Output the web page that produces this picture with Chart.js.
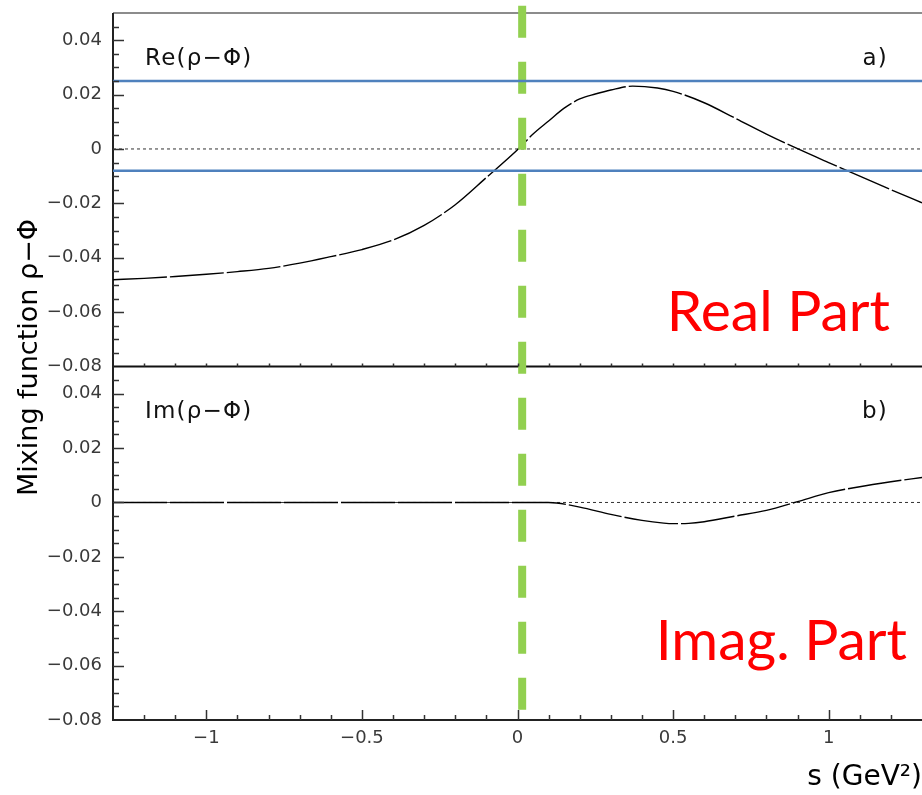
<!DOCTYPE html>
<html>
<head>
<meta charset="utf-8">
<script src="https://cdn.jsdelivr.net/npm/chart.js@4.4.0/dist/chart.umd.min.js"></script>
<style>
body { margin: 0; background: #fff; }
canvas { display: block; }
</style>
</head>
<body>
<canvas id="myChart" width="922" height="795"></canvas>
<script>
// values
var reS      = [-1.3, -1.2, -1.1, -1.0, -0.9, -0.8, -0.7, -0.6, -0.5, -0.4, -0.3, -0.2, -0.1, 0.0, 0.05, 0.1, 0.15, 0.2, 0.25, 0.3, 0.37, 0.45, 0.5, 0.6, 0.7, 0.8, 0.9, 1.0, 1.1, 1.2, 1.3];
var reValues = [-0.0481, -0.0476, -0.0469, -0.0461, -0.0451, -0.0439, -0.0420, -0.0396, -0.0370, -0.0335, -0.0281, -0.0205, -0.0105, -0.0003, 0.0055, 0.0103, 0.0150, 0.0184, 0.0202, 0.0217, 0.0231, 0.0224, 0.0212, 0.0170, 0.0113, 0.0055, 0.0001, -0.0050, -0.0100, -0.0150, -0.0198];

var imS      = [-1.3, -1.0, -0.5, 0.0, 0.1, 0.2, 0.3, 0.4, 0.47, 0.5, 0.55, 0.6, 0.7, 0.8, 0.9, 1.0, 1.1, 1.2, 1.3];
var imValues = [0, 0, 0, 0, 0, -0.0017, -0.0044, -0.0066, -0.0076, -0.0078, -0.0077, -0.0071, -0.0050, -0.0029, 0.0003, 0.0036, 0.0058, 0.0076, 0.0092];

var blueLevels = [0.025, -0.008];
var greenS = 0.015;

var sRange = [-1.3, 1.3];
var yRange = [-0.08, 0.05];
var xTickStep = 0.5, xMinorStep = 0.1;
var yTickStep = 0.02, yMinorStep = 0.005;

var panelLabels = ['Re(ρ−Φ)', 'Im(ρ−Φ)'];
var panelTags = ['a)', 'b)'];
var partLabels = ['Real Part', 'Imag. Part'];
var yTitle = 'Mixing function ρ−Φ';
var xTitle = 's (GeV²)';

function toPoints(xs, ys) {
    var pts = [];
    for (var i = 0; i < xs.length; i++) pts.push({x: xs[i], y: ys[i]});
    return pts;
}

function flat(level) {
    return [{x: sRange[0], y: level}, {x: sRange[1], y: level}];
}

function minusNum(v, digits) {
    if (Math.abs(v) < 1e-9) return '0';
    var t = digits == null ? String(+Math.abs(v).toFixed(2)) : Math.abs(v).toFixed(digits);
    return (v < 0 ? '\u2212' : '') + t;
}

var tickFont = {family: 'DejaVu Sans', size: 18};

function yScale(weight) {
    return {
        type: 'linear',
        position: 'left',
        stack: 'panels',
        stackWeight: 1,
        weight: weight,
        min: yRange[0],
        max: yRange[1],
        afterFit: function (s) { s.width = 113; s.paddingTop = 0; s.paddingBottom = 0; },
        grid: {display: false, drawTicks: false},
        border: {display: false},
        ticks: {
            stepSize: yTickStep,
            includeBounds: false,
            padding: 11,
            color: '#3a3a3a',
            font: tickFont,
            callback: function (v) { return minusNum(v, 2); }
        }
    };
}

var decor = {
    id: 'decor',
    beforeDatasetsDraw: function (chart) {
        var ctx = chart.ctx, a = chart.chartArea;
        var sep = chart.scales.yRe.bottom;
        ctx.save();
        ctx.lineCap = 'butt';
        ctx.strokeStyle = '#666';
        ctx.lineWidth = 1.5;
        ctx.beginPath(); ctx.moveTo(a.left, a.top); ctx.lineTo(a.right, a.top); ctx.stroke();
        ctx.strokeStyle = '#111';
        ctx.lineWidth = 2;
        ctx.beginPath(); ctx.moveTo(a.left, sep); ctx.lineTo(a.right, sep); ctx.stroke();
        ctx.strokeStyle = '#222';
        ctx.beginPath(); ctx.moveTo(a.left, a.top); ctx.lineTo(a.left, a.bottom); ctx.lineTo(a.right, a.bottom); ctx.stroke();
        ctx.restore();
    },
    afterDatasetDraw: function (chart, args) {
        if (chart.data.datasets[args.index].label !== panelLabels[0]) return;
        // green dashed marker, drawn over the curves but under the blue levels
        var ctx = chart.ctx, a = chart.chartArea;
        var gx = chart.scales.x.getPixelForValue(greenS);
        ctx.save();
        ctx.strokeStyle = '#92D050';
        ctx.lineWidth = 8;
        ctx.setLineDash([32, 24]);
        ctx.beginPath();
        ctx.moveTo(gx, a.top - 7.3);
        ctx.lineTo(gx, a.bottom);
        ctx.stroke();
        ctx.restore();
    },
    afterDraw: function (chart) {
        var ctx = chart.ctx, a = chart.chartArea;
        var xs = chart.scales.x;
        var panels = [chart.scales.yRe, chart.scales.yIm];
        ctx.save();
        ctx.strokeStyle = '#333';
        ctx.lineWidth = 1.5;
        // inner y ticks
        panels.forEach(function (ys) {
            var n = Math.round((yRange[1] - yRange[0]) / yMinorStep);
            for (var i = 1; i < n; i++) {
                var v = yRange[0] + i * yMinorStep;
                var major = Math.abs(v / yTickStep - Math.round(v / yTickStep)) < 1e-6;
                var py = Math.round(ys.getPixelForValue(v)) + 0.5;
                ctx.beginPath();
                ctx.moveTo(a.left, py);
                ctx.lineTo(a.left + (major ? 11 : 6), py);
                ctx.stroke();
            }
        });
        // inner x ticks, bottom axis and separator
        var m = Math.round((sRange[1] - sRange[0]) / xMinorStep);
        for (var j = 1; j < m; j++) {
            var s = sRange[0] + j * xMinorStep;
            var majorX = Math.abs(s / xTickStep - Math.round(s / xTickStep)) < 1e-6;
            var px = Math.round(xs.getPixelForValue(s)) + 0.5;
            ctx.beginPath();
            ctx.moveTo(px, a.bottom);
            ctx.lineTo(px, a.bottom - (majorX ? 10 : 5));
            ctx.stroke();
            ctx.beginPath();
            ctx.moveTo(px, panels[0].bottom);
            ctx.lineTo(px, panels[0].bottom - 3);
            ctx.stroke();
        }

        // panel labels
        ctx.fillStyle = '#111';
        ctx.font = '23px "DejaVu Sans"';
        ctx.letterSpacing = '1.2px';
        ctx.textBaseline = 'middle';
        panels.forEach(function (ys, k) {
            ctx.textAlign = 'left';
            ctx.fillText(panelLabels[k], a.left + 32, ys.top + 46);
            ctx.textAlign = 'right';
            ctx.fillText(panelTags[k], a.right - 34, ys.top + 46);
        });
        ctx.letterSpacing = '0px';

        // big red part names
        ctx.fillStyle = '#FF0000';
        ctx.font = '57px Lato';
        ctx.textAlign = 'right';
        ctx.textBaseline = 'alphabetic';
        ctx.fillText(partLabels[0], a.right - 32, panels[0].bottom - 36);
        ctx.fillText(partLabels[1], a.right - 15, panels[1].bottom - 60);

        // y title across both panels
        ctx.fillStyle = '#000';
        ctx.font = '27px "DejaVu Sans"';
        ctx.textAlign = 'center';
        ctx.translate(37, (a.top + a.bottom) / 2 - 9);
        ctx.rotate(-Math.PI / 2);
        ctx.fillText(yTitle, 0, 0);
        ctx.restore();
    }
};

var ctx = document.getElementById('myChart').getContext('2d');
var myChart = new Chart(ctx, {
    type: 'line',
    data: {
        datasets: [{
            label: panelLabels[0],
            yAxisID: 'yRe',
            data: toPoints(reS, reValues),
            borderColor: '#000',
            borderWidth: 1.4,
            borderDash: [54, 3],
            cubicInterpolationMode: 'monotone',
            pointRadius: 0,
            order: 3
        }, {
            label: panelLabels[1],
            yAxisID: 'yIm',
            data: toPoints(imS, imValues),
            borderColor: '#000',
            borderWidth: 1.4,
            borderDash: [54, 3],
            cubicInterpolationMode: 'monotone',
            pointRadius: 0,
            order: 3
        }, {
            label: 'zeroRe',
            yAxisID: 'yRe',
            data: flat(0),
            borderColor: '#333',
            borderWidth: 1,
            borderDash: [3, 3],
            pointRadius: 0,
            order: 4
        }, {
            label: 'zeroIm',
            yAxisID: 'yIm',
            data: flat(0),
            borderColor: '#333',
            borderWidth: 1,
            borderDash: [3, 3],
            pointRadius: 0,
            order: 4
        }, {
            label: 'upper',
            yAxisID: 'yRe',
            data: flat(blueLevels[0]),
            borderColor: '#4F81BD',
            borderWidth: 2.6,
            pointRadius: 0,
            order: 1
        }, {
            label: 'lower',
            yAxisID: 'yRe',
            data: flat(blueLevels[1]),
            borderColor: '#4F81BD',
            borderWidth: 2.6,
            pointRadius: 0,
            order: 1
        }]
    },
    options: {
        responsive: false,
        animation: false,
        devicePixelRatio: 1,
        layout: {padding: {top: 13, left: 0, right: 0, bottom: 0}},
        plugins: {legend: {display: false}, tooltip: {enabled: false}},
        scales: {
            x: {
                type: 'linear',
                min: sRange[0],
                max: sRange[1],
                afterFit: function (s) { s.height = 75; s.paddingLeft = 0; s.paddingRight = 0; },
                grid: {display: false, drawTicks: false},
                border: {display: false},
                ticks: {
                    stepSize: xTickStep,
                    includeBounds: false,
                    autoSkip: false,
                    maxRotation: 0,
                    padding: 8,
                    color: '#3a3a3a',
                    font: tickFont,
                    callback: function (v) { return minusNum(v); }
                },
                title: {
                    display: true,
                    text: xTitle,
                    align: 'end',
                    color: '#000',
                    font: {family: 'DejaVu Sans', size: 28},
                    padding: {top: 0, bottom: 0}
                }
            },
            yRe: yScale(1),
            yIm: yScale(0)
        }
    },
    plugins: [decor]
});
</script>
</body>
</html>
